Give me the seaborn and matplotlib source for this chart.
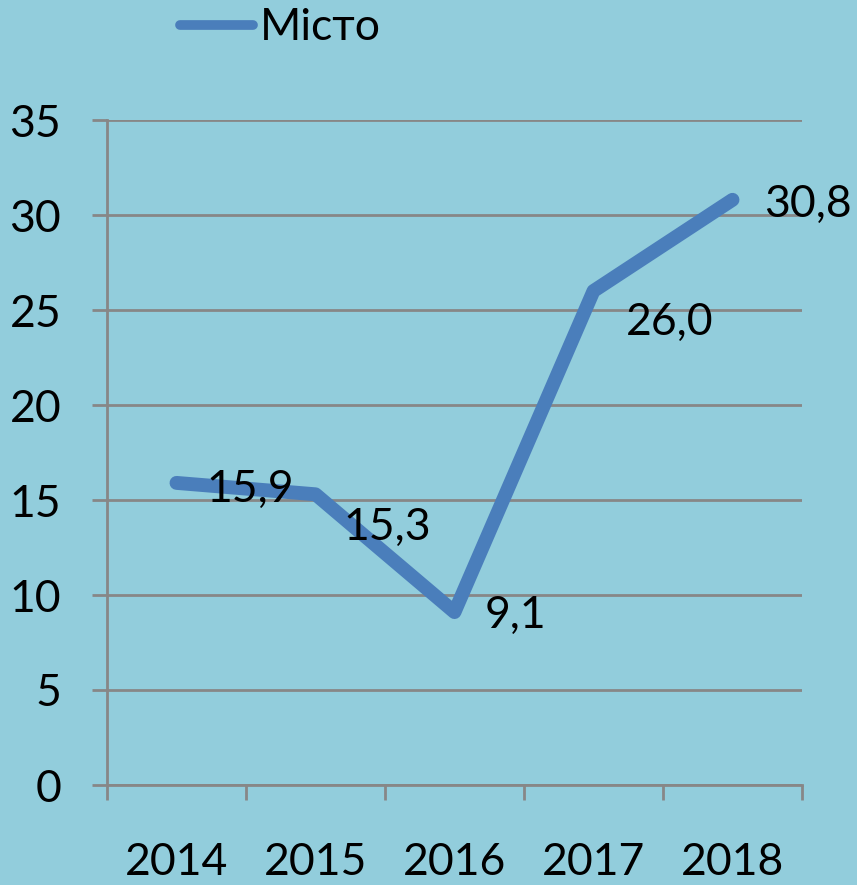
import numpy as np
import pandas as pd
import seaborn as sns
import matplotlib.pyplot as plt
from matplotlib.lines import Line2D

# Chart data
years = ["2014", "2015", "2016", "2017", "2018"]
values = [15.9, 15.3, 9.1, 26.0, 30.8]
value_labels = ["15,9", "15,3", "9,1", "26,0", "30,8"]
series_name = "Місто"

# label offsets (pixels, right/down from point)
label_offsets = [(30, -7), (28, -33), (30, -3), (32, -31), (32, -5)]

bg = "#92CDDC"
line_color = "#4A7EBB"
grid_color = "#878787"
fs = 32

sns.set_theme(style="white")
plt.rcParams['font.family'] = ['Lato', 'DejaVu Sans']
plt.rcParams['text.color'] = 'black'

df = pd.DataFrame({"year": years, "value": values, "series": series_name})

fig = plt.figure(figsize=(8.57, 8.85), dpi=100, facecolor=bg)
ax = fig.add_axes([107 / 857, 1 - 785 / 885, 695 / 857, 665 / 885])
ax.set_facecolor(bg)

sns.lineplot(data=df, x="year", y="value", hue="series", palette=[line_color],
             linewidth=10, ax=ax, sort=False, legend=False)
for ln in ax.lines:
    ln.set_solid_capstyle("round")
    ln.set_solid_joinstyle("round")

ax.set_xlim(-0.5, 4.5)
ax.set_ylim(0, 35)
ax.set_yticks(np.arange(0, 36, 5))
ax.set_yticklabels([str(v) for v in range(0, 36, 5)], fontsize=fs, color="black")
ax.yaxis.grid(True, color=grid_color, linewidth=2)
ax.set_axisbelow(True)

ax.set_xticks(range(len(years)))
ax.set_xticklabels(years, fontsize=fs, color="black")
ax.set_xticks(np.arange(-0.5, 5, 1), minor=True)
ax.tick_params(axis="x", which="major", length=0, pad=41, bottom=True)
ax.tick_params(axis="x", which="minor", length=11, width=2, color=grid_color,
               direction="out", bottom=True)
ax.tick_params(axis="y", length=11, width=2, color=grid_color, direction="out",
               pad=22, left=True)
ax.set_xlabel("")
ax.set_ylabel("")

for s in ["top", "right"]:
    ax.spines[s].set_visible(False)
for s in ["left", "bottom"]:
    ax.spines[s].set_color(grid_color)
    ax.spines[s].set_linewidth(2)

for i, (lab, off) in enumerate(zip(value_labels, label_offsets)):
    ax.annotate(lab, (i, values[i]), xytext=(off[0] * 0.72, off[1] * 0.72),
                textcoords="offset points", fontsize=fs, va="center", ha="left",
                color="black")

handle = Line2D([], [], color=line_color, linewidth=7, solid_capstyle="round")
fig.legend([handle], [series_name], loc="center left",
           bbox_to_anchor=(180 / 857, 1 - 28 / 885), frameon=False,
           fontsize=fs, handlelength=1.65, handletextpad=0.15,
           borderpad=0, borderaxespad=0, labelcolor="black")

fig.savefig("out.png", dpi=100, facecolor=bg)
